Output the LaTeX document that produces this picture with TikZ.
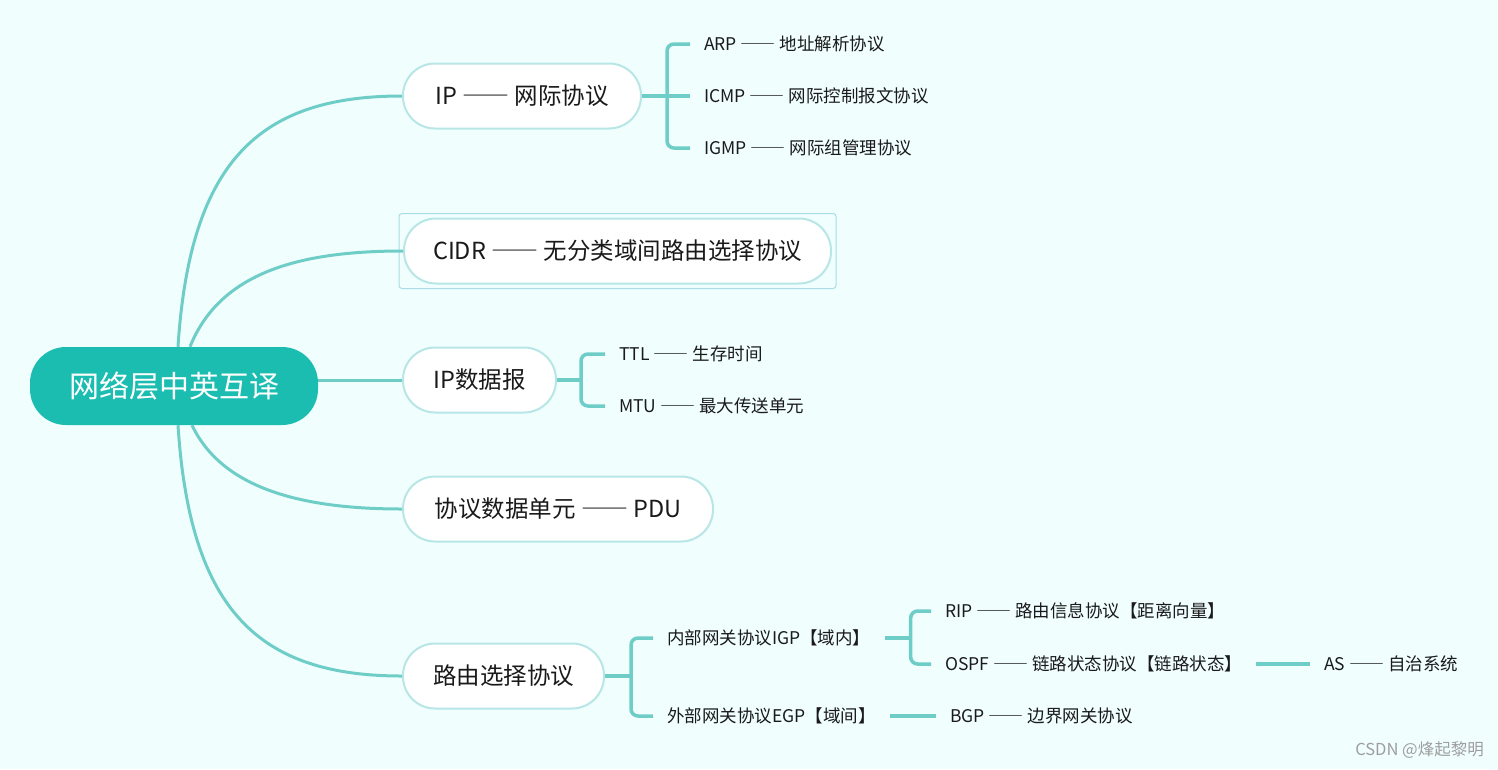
\documentclass[tikz,border=0pt]{standalone}
\usepackage{fontspec}
\setmainfont{Noto Sans CJK SC}
\newcommand{\dd}{{\addfontfeatures{RawFeature=+fwid}——}}
\definecolor{bgc}{HTML}{F0FFFE}
\definecolor{rootc}{HTML}{1BBDB1}
\definecolor{linec}{HTML}{6FCDC8}
\definecolor{bordc}{HTML}{B8E6E6}
\definecolor{selc}{HTML}{A8DCE6}
\definecolor{txtc}{HTML}{1A1A1A}
\tikzset{
  rootnode/.style={rectangle, rounded corners=36pt, fill=rootc, text=white,
    minimum width=288pt, minimum height=78pt, inner sep=0pt,
    font=\fontsize{30}{34}\selectfont},
  topic/.style={rectangle, rounded corners=32pt, fill=white, draw=bordc, line width=2pt,
    minimum height=65pt, inner sep=0pt, text=txtc,
    font=\fontsize{23.5}{28}\selectfont},
  leaf/.style={anchor=west, inner xsep=14pt, inner ysep=2pt, text=txtc,
    font=\fontsize{17.5}{20}\selectfont},
  conn/.style={draw=linec, line width=3pt},
  brk/.style={draw=linec, line width=3.5pt, rounded corners=7pt},
  selbox/.style={draw=selc, line width=1pt, rounded corners=3pt},
}
\begin{document}
\begin{tikzpicture}[x=1pt,y=-1pt]
\useasboundingbox (0,0) rectangle (1498,769);
\fill[bgc] (0,0) rectangle (1498,769);

% root
\node[rootnode] (root) at (174,386) {网络层中英互译};

% level 1
\node[topic, minimum width=238pt] (ip) at (522,96) {IP \dd{} 网际协议};
\node[topic, minimum width=427pt] (cidr) at (617.5,251) {CIDR \dd{} 无分类域间路由选择协议};
\node[topic, minimum width=153pt] (dgram) at (479.5,380) {IP数据报};
\node[topic, minimum width=310pt] (pdu) at (558,509) {协议数据单元 \dd{} PDU};
\node[topic, minimum width=201pt] (route) at (503.5,676) {路由选择协议};

\draw[selbox] ([shift={(-4,-4)}]cidr.north west) rectangle ([shift={(4,4)}]cidr.south east);

% root connectors
\draw[conn] ([xshift=4pt]root.north) .. controls (190,160) and (260,96) .. (ip.west);
\draw[conn] ([xshift=16pt]root.north) .. controls (220,272) and (300,251) .. (cidr.west);
\draw[conn] (root.east |- dgram.west) -- (dgram.west);
\draw[conn] ([xshift=18pt]root.south) .. controls (222,488) and (300,509) .. (pdu.west);
\draw[conn] ([xshift=4pt]root.south) .. controls (190,612) and (260,676) .. (route.west);

% IP children
\node[leaf] (arp) at (690,44) {ARP \dd{} 地址解析协议};
\node[leaf] (icmp) at (690,96) {ICMP \dd{} 网际控制报文协议};
\node[leaf] (igmp) at (690,148) {IGMP \dd{} 网际组管理协议};
\draw[brk] (ip.east) -- ++(25,0) coordinate (ipj);
\draw[brk] (ipj) |- (arp.west);
\draw[brk] (ipj) -- (icmp.west);
\draw[brk] (ipj) |- (igmp.west);

% datagram children
\node[leaf] (ttl) at (605,354) {TTL \dd{} 生存时间};
\node[leaf] (mtu) at (605,406) {MTU \dd{} 最大传送单元};
\draw[brk] (dgram.east) -- ++(24,0) coordinate (dgj);
\draw[brk] (dgj) |- (ttl.west);
\draw[brk] (dgj) |- (mtu.west);

% routing children
\node[leaf] (igp) at (653,638) {内部网关协议IGP【域内】};
\node[leaf] (egp) at (653,716) {外部网关协议EGP【域间】};
\draw[brk] (route.east) -- ++(26,0) coordinate (rtj);
\draw[brk] (rtj) |- (igp.west);
\draw[brk] (rtj) |- (egp.west);

\node[leaf] (rip) at (931,611) {RIP \dd{} 路由信息协议【距离向量】};
\node[leaf] (ospf) at (931,664) {OSPF \dd{} 链路状态协议【链路状态】};
\draw[brk] (igp.east) -- ++(26,0) coordinate (igj);
\draw[brk] (igj) |- (rip.west);
\draw[brk] (igj) |- (ospf.west);

\node[leaf] (as) at (1310,664) {AS \dd{} 自治系统};
\draw[brk] (ospf.east) -- (as.west);

\node[leaf] (bgp) at (936,716) {BGP \dd{} 边界网关协议};
\draw[brk] (egp.east) -- (bgp.west);

% watermark
\node[anchor=east, inner sep=0pt, text=black!38, font=\fontsize{16.5}{18}\selectfont] (wm) at (1484,750) {CSDN @烽起黎明};
\end{tikzpicture}
\end{document}
